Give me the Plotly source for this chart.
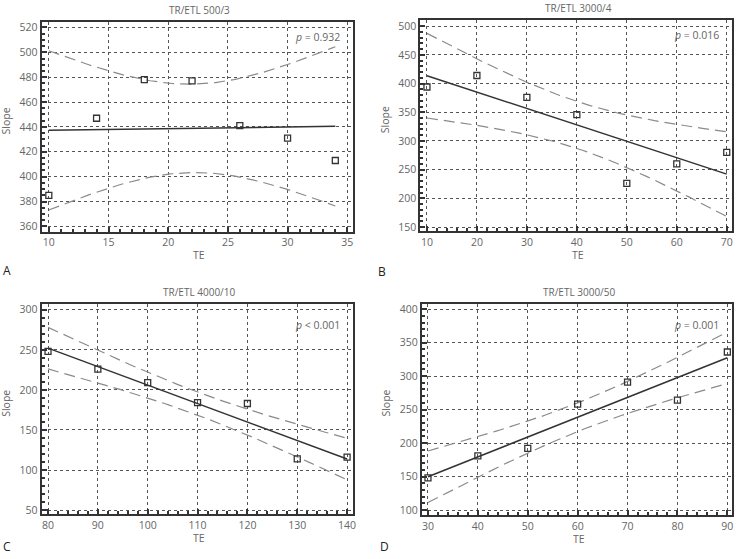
import numpy as np
import plotly.graph_objects as go

# ---- data ----
titles = ["TR/ETL 500/3", "TR/ETL 3000/4", "TR/ETL 4000/10", "TR/ETL 3000/50"]
panel_letters = ["A", "B", "C", "D"]
p_texts = ["<i>p</i> = 0.932", "<i>p</i> = 0.016", "<i>p</i> < 0.001", "<i>p</i> = 0.001"]

te_a = [10, 14, 18, 22, 26, 30, 34]
slope_a = [385, 447, 478, 477, 441, 431, 413]

te_b = [10, 20, 30, 40, 50, 60, 70]
slope_b = [394, 414, 376, 346, 226, 260, 280]

te_c = [80, 90, 100, 110, 120, 130, 140]
slope_c = [248, 226, 209, 184, 183, 114, 116]

te_d = [30, 40, 50, 60, 70, 80, 90]
slope_d = [148, 181, 192, 258, 291, 264, 336]

series = [(te_a, slope_a), (te_b, slope_b), (te_c, slope_c), (te_d, slope_d)]

# ---- layout geometry (pixels) ----
W, H = 743, 559
boxes = [  # left, right, top, bottom in pixels
    (41.7, 354.3, 20.0, 231.3),
    (422.0, 735.0, 18.3, 231.0),
    (41.7, 354.0, 304.0, 516.0),
    (423.7, 735.3, 304.0, 516.7),
]
xranges = [[9.39, 35.47], [8.67, 71.06], [78.7, 141.1], [28.8, 91.0]]
yranges = [[355.8, 524.5], [142.6, 510.4], [44.7, 307.4], [92.6, 407.9]]
xdticks = [(5, 1), (10, 2), (10, 2), (10, 2)]
ydticks = [(20, 5), (50, 10), (50, 10), (50, 10)]
xtick0 = [10, 10, 80, 30]
ytick0 = [360, 150, 50, 100]
letter_y = [270, 271, 548, 548]

T_975_DF5 = 2.5706

TXT = "#666666"
DARK = "#333333"
FONT = "Open Sans, Lato, DejaVu Sans, sans-serif"

fig = go.Figure()
annotations = []

for i, (xs, ys) in enumerate(series):
    xa = "x" if i == 0 else f"x{i+1}"
    ya = "y" if i == 0 else f"y{i+1}"
    x = np.array(xs, float)
    y = np.array(ys, float)
    n = len(x)
    b, a = np.polyfit(x, y, 1)
    xm = x.mean()
    sxx = ((x - xm) ** 2).sum()
    resid = y - (a + b * x)
    s = np.sqrt((resid ** 2).sum() / (n - 2))
    xf = np.linspace(x.min(), x.max(), 80)
    yf = a + b * xf
    half = T_975_DF5 * s * np.sqrt(1.0 / n + (xf - xm) ** 2 / sxx)

    for yy in (yf + half, yf - half):
        fig.add_trace(go.Scatter(x=xf, y=yy, mode="lines", xaxis=xa, yaxis=ya,
                                 line=dict(color="#8a8a8a", width=1.2, dash="11px,6px"),
                                 showlegend=False, hoverinfo="skip"))
    fig.add_trace(go.Scatter(x=xf, y=yf, mode="lines", xaxis=xa, yaxis=ya,
                             line=dict(color=DARK, width=1.5), showlegend=False))
    fig.add_trace(go.Scatter(x=x, y=y, mode="markers", xaxis=xa, yaxis=ya,
                             marker=dict(symbol="square-open", size=6, color=DARK,
                                         line=dict(width=1.3, color=DARK)),
                             showlegend=False))

    l, r, t, btm = boxes[i]
    xdom = [l / W, r / W]
    ydom = [1 - btm / H, 1 - t / H]
    common = dict(showline=True, linewidth=2, linecolor=DARK, mirror=True,
                  ticks="inside", ticklen=5, tickwidth=1.5, tickcolor=DARK,
                  showgrid=True, gridcolor="#555555", gridwidth=1, griddash="dot",
                  zeroline=False, tickfont=dict(family=FONT, size=10.5, color=TXT))
    fig.layout[("xaxis" if i == 0 else f"xaxis{i+1}")] = dict(
        domain=xdom, range=xranges[i], anchor=ya, tick0=xtick0[i], dtick=xdticks[i][0],
        minor=dict(dtick=xdticks[i][1], ticks="inside", ticklen=3, tickcolor=DARK, showgrid=False),
        **common)
    fig.layout[("yaxis" if i == 0 else f"yaxis{i+1}")] = dict(
        domain=ydom, range=yranges[i], anchor=xa, tick0=ytick0[i], dtick=ydticks[i][0],
        minor=dict(dtick=ydticks[i][1], ticks="inside", ticklen=3, tickcolor=DARK, showgrid=False),
        **common)

    cx = (l + r) / 2
    # title
    annotations.append(dict(text=titles[i], x=(cx + 2) / W, y=1 - (t - 12) / H,
                            xref="paper", yref="paper", showarrow=False,
                            xanchor="center", yanchor="middle",
                            font=dict(family=FONT, size=10, color=TXT)))
    # x title
    annotations.append(dict(text="TE", x=(cx + 2) / W, y=1 - (btm + 24) / H,
                            xref="paper", yref="paper", showarrow=False,
                            xanchor="center", yanchor="middle",
                            font=dict(family=FONT, size=10.5, color=TXT)))
    # y title
    annotations.append(dict(text="Slope", x=(l - 36) / W, y=1 - ((t + btm) / 2 - 6) / H,
                            xref="paper", yref="paper", showarrow=False, textangle=-90,
                            xanchor="center", yanchor="middle",
                            font=dict(family=FONT, size=10.5, color=TXT)))
    # p value
    annotations.append(dict(text=p_texts[i], x=(r - 11) / W, y=1 - (t + 15 + (6 if i >= 2 else 0)) / H,
                            xref="paper", yref="paper", showarrow=False,
                            xanchor="right", yanchor="middle",
                            font=dict(family=FONT, size=10.5, color=TXT)))
    # panel letter
    annotations.append(dict(text=panel_letters[i], x=(l - 41 if i % 2 == 0 else l - 44) / W,
                            y=1 - letter_y[i] / H,
                            xref="paper", yref="paper", showarrow=False,
                            xanchor="left", yanchor="middle",
                            font=dict(family=FONT, size=12, color="#222222")))

fig.update_layout(width=W, height=H, margin=dict(l=0, r=0, t=0, b=0),
                  paper_bgcolor="white", plot_bgcolor="white",
                  annotations=annotations, showlegend=False)

fig.write_html("out.html")
